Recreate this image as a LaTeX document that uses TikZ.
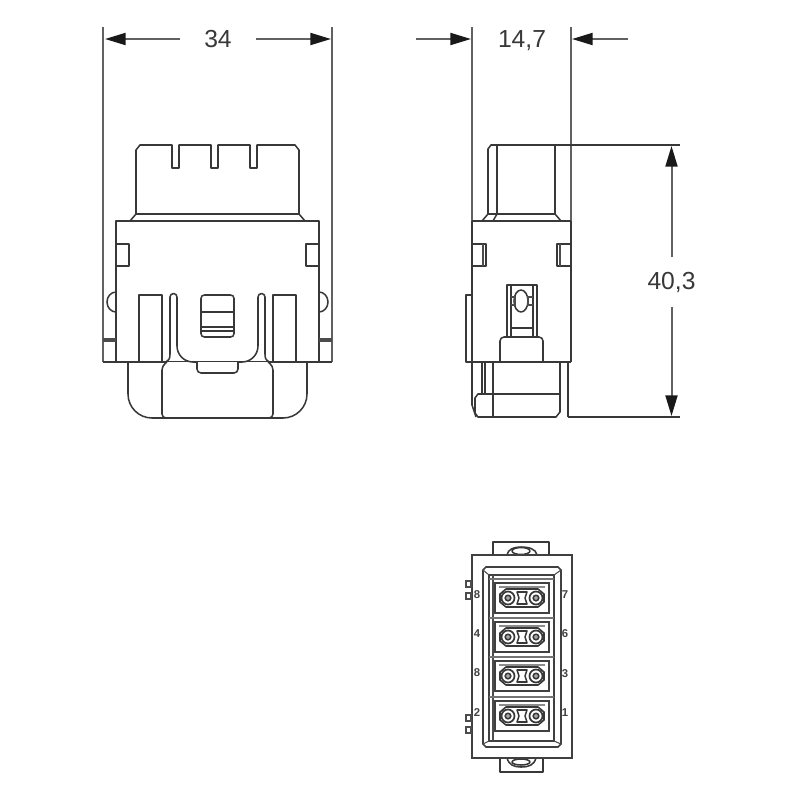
\documentclass[tikz,border=0pt]{standalone}
\usepackage{fontspec}
\setmainfont{Liberation Sans}
\usetikzlibrary{arrows.meta}
\newcommand{\dimto}[2]{% dimension line ending in a filled arrow
  \draw [dimline] (#1) -- (#2);
  }
\newcommand{\pinlabel}[3]{% contact number of the bottom view
  \node (#1) [pinnum] at (#3) {#2};
  }

\begin{document}
\begin{tikzpicture}[
  x=0.75pt, y=-0.75pt,
  part/.style={
    % The outline of the connector:
    draw=black!78,
    line width=1.15pt,
    line join=round
  },
  thin part/.style={
    draw=black!70,
    line width=0.8pt
  },
  heavy part/.style={
    draw=black!75,
    line width=1.25pt
  },
  extline/.style={
    draw=black!62,
    line width=1.2pt
  },
  dimline/.style={
    draw=black!62,
    line width=1.5pt,
    -{Triangle[length=15.5pt, width=9pt, color=black!90]}
  },
  dimtext/.style={
    font=\fontsize{18.5}{20}\selectfont,
    text=black!78,
    inner sep=0pt
  },
  pinnum/.style={
    font=\bfseries\fontsize{8.5}{9}\selectfont,
    text=black!75,
    inner sep=0pt
  },
  ]
  \useasboundingbox (0,0) rectangle (800,800);

  % extension lines
  \coordinate (ext34l top) at (103,27);
  \coordinate (ext34l bot) at (103,362);
  \coordinate (ext34r top) at (332,27);
  \coordinate (ext34r bot) at (332,362);
  \coordinate (ext147l top) at (472,27);
  \coordinate (ext147l bot) at (472,221);
  \coordinate (ext147r top) at (571,27);
  \coordinate (ext147r bot) at (571,221);
  \coordinate (ext403t from) at (491,145);
  \coordinate (ext403t to) at (680,145);
  \coordinate (ext403b from) at (568,417);
  \coordinate (ext403b to) at (680,417);
  \foreach \i in {ext34l, ext34r, ext147l, ext147r}
  {
    \draw [extline] (\i\space top) -- (\i\space bot);
  }
  \draw [part] (ext403t from) -- (ext403t to);
  \draw [part] (ext403b from) -- (ext403b to);

  % dimensions
  \node (dim34) [dimtext, minimum width=57pt] at (218,39) {34};
  \coordinate (tip34l) at (105,39);
  \coordinate (tip34r) at (331,39);
  \dimto{dim34}{tip34l}
  \dimto{dim34}{tip34r}

  \node (dim147) [dimtext] at (522,41) {14,7};
  \coordinate (start147l) at (416,39);
  \coordinate (tip147l) at (471,39);
  \coordinate (start147r) at (628,39);
  \coordinate (tip147r) at (572,39);
  \dimto{start147l}{tip147l}
  \dimto{start147r}{tip147r}

  \node (dim403) [dimtext, minimum height=36.5pt] at (671.5,282) {40,3};
  \coordinate (tip403t) at (671.5,146);
  \coordinate (tip403b) at (671.5,416);
  \dimto{dim403}{tip403t}
  \dimto{dim403}{tip403b}

  % front view
  \draw [part] (136,214) -- (136,150) -- (140,145) -- (172,145) -- (172,168) -- (179,168) -- (179,145)
    -- (211,145) -- (211,168) -- (218,168) -- (218,145) -- (250,145) -- (250,168) -- (257,168)
    -- (257,145) -- (295,145) -- (299,150) -- (299,214);
  \draw [part] (130,221) -- (136,214) -- (299,214) -- (305,221);
  \draw [part] (116,362) -- (116,221) -- (319,221) -- (319,362);
  \draw [part] (103,362) -- (332,362);
  \draw [part, rounded corners=18pt] (128,362) -- (128,418) -- (307,418) -- (307,362);
  \draw [part, fill=white, rounded corners=3pt] (167,362) -- (162,366) -- (162,418) -- (273,418) -- (273,366) -- (268,362);
  \draw [part, rounded corners=3pt] (197,362) -- (197,373) -- (238,373) -- (238,362);
  \draw [part, rounded corners=2.5pt] (201,295) rectangle (234,337);
  \draw [part] (201,312) -- (234,312);
  \draw [part] (201,327) -- (234,327);
  \draw [part] (201,331) -- (234,331);

  % left and right halves of the front view are mirrored
  \foreach \s in {1, -1}
  {
    \begin{scope}[shift={(217.5,0)}, xscale=\s]
      \draw [part] (-101.5,244) -- (-88.5,244) -- (-88.5,266) -- (-101.5,266);
      \draw [part] (-101.5,292) arc [start angle=270, end angle=90, x radius=9, y radius=10];
      \draw [thin part] (-114.5,339) -- (-101.5,339);
      \draw [thin part] (-114.5,341) -- (-101.5,341);
      \draw [part] (-78.5,362) -- (-78.5,295) -- (-55.5,295) -- (-55.5,362);
      \draw [part] (-52,362) .. controls (-48,360) and (-47.5,358) .. (-47.5,354) -- (-47.5,297)
        arc [start angle=180, end angle=360, radius=3.5];
      \draw [part, rounded corners=12pt] (-40.5,297) -- (-40.5,362) -- (-20,362);
    \end{scope}
  }

  % side view
  \draw [part] (488,214) -- (488,149) -- (491,145) -- (555,145) -- (555,214);
  \draw [part] (497,145) -- (497,214);
  \draw [part] (482,221) -- (488,214) -- (555,214) -- (561,221);
  \draw [part] (493,221) -- (497,214);
  \draw [part] (472,221) -- (571,221);
  \draw [part] (472,244) -- (486,244) -- (486,266) -- (472,266);
  \draw [thin part] (483,244) -- (483,266);
  \draw [part] (571,244) -- (557,244) -- (557,266) -- (571,266);
  \draw [thin part] (560,244) -- (560,266);
  \draw [part] (472,221) -- (472,362);
  \draw [part] (571,221) -- (571,362);
  \draw [part] (472,295) -- (466,295) -- (466,362) -- (571,362);
  \draw [part] (507,337) -- (507,285) -- (537,285) -- (537,337);
  \draw [part] (511,285) -- (511,337);
  \draw [part] (533,285) -- (533,337);
  \draw [part] (521,301) ellipse [x radius=7, y radius=11];
  \draw [thin part] (511,297) -- (515,297) -- (515,305) -- (511,305);
  \draw [thin part] (533,297) -- (528,297) -- (528,305) -- (533,305);
  \draw [part] (511,328) -- (533,328);
  \draw [part, rounded corners=3pt] (500,362) -- (500,337) -- (543,337) -- (543,362);
  \draw [part] (472,362) -- (472,405) -- (476,417);
  \draw [part] (482,362) -- (482,394);
  \draw [part] (485,362) -- (485,394);
  \draw [part] (493,362) -- (493,417);
  \draw [part] (560,362) -- (560,412) -- (556,417) -- (478,417) -- (475,413) -- (475,398) -- (478,394) -- (560,394);
  \draw [part] (568,362) -- (568,417);

  % bottom view
  \draw [part] (493,555) -- (493,542) -- (549,542) -- (549,555);
  \draw [part] (507,555) .. controls (508,549) and (514,547) .. (521,547) .. controls (529,547) and (536,549) .. (537,555);
  \draw [part] (521,551) ellipse [x radius=9, y radius=3.5];
  \draw [part] (500,758) -- (500,772) -- (543,772) -- (543,758);
  \draw [part] (507,758) .. controls (509,765) and (514,767) .. (521,767) .. controls (529,767) and (534,765) .. (536,758);
  \draw [part] (521,762) ellipse [x radius=9, y radius=3];
  \draw [heavy part] (472,555) rectangle (572,758);
  \draw [heavy part] (483,570) -- (486,567) -- (558,567) -- (561,570) -- (561,744) -- (558,747) -- (486,747) -- (483,744) -- cycle;
  \draw [heavy part] (489,575) rectangle (554,741);
  \draw [thin part] (483,570) -- (489,575);
  \draw [thin part] (561,570) -- (554,575);
  \draw [thin part] (483,744) -- (489,741);
  \draw [thin part] (561,744) -- (554,741);
  \draw [thin part] (493,575) -- (493,741);

  % small squares on the left wall
  \foreach \i in {581, 593, 715, 727}
  {
    \draw [thin part] (466,\i) rectangle (471,\i+6);
  }

  % Loop to create the four contact cells
  \foreach \i/\cy in {a/598, b/637, c/676, d/716}
  {
    \draw [heavy part, draw=black!55] (489,\cy-19) -- (554,\cy-19);
    \draw [heavy part] (495,\cy-15) rectangle (549,\cy+15);
    \draw [thin part, draw=black!45, line width=1.2pt] (499,\cy-11) -- (545,\cy-11);
    \draw [part, line width=1.2pt] (506,\cy-9) -- (538,\cy-9) -- (544,\cy-4) -- (544,\cy+4) -- (538,\cy+9)
      -- (506,\cy+9) -- (500,\cy+4) -- (500,\cy-4) -- cycle;
    \draw [part, line width=1.3pt, fill=white] (508,\cy) circle [radius=6.5];
    \draw [part, line width=1.3pt, fill=white] (536,\cy) circle [radius=6.5];
    \draw [part, fill=black!35] (508,\cy) circle [radius=2.8];
    \draw [part, fill=black!35] (536,\cy) circle [radius=2.8];
    \draw [part] (517,\cy-6) -- (527,\cy-6) -- (525,\cy) -- (527,\cy+6) -- (517,\cy+6) -- (519,\cy) -- cycle;
  }

  % contact numbers
  \pinlabel{pin a}{8}{477,595}
  \pinlabel{pin b}{4}{477,634}
  \pinlabel{pin c}{8}{477,673}
  \pinlabel{pin d}{2}{477,713}
  \pinlabel{pin e}{7}{565,595}
  \pinlabel{pin f}{6}{565,634}
  \pinlabel{pin g}{3}{565,674}
  \pinlabel{pin h}{1}{565,713}

\end{tikzpicture}
\end{document}
